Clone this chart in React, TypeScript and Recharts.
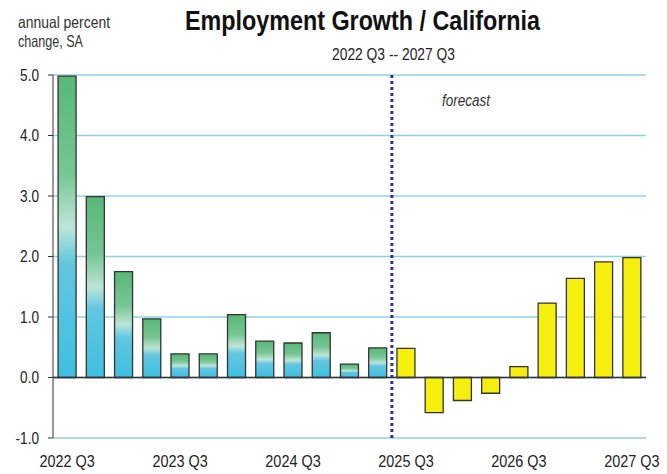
import React from 'react';
import {
  BarChart,
  Bar,
  Cell,
  XAxis,
  YAxis,
  CartesianGrid,
  ReferenceLine,
} from 'recharts';

const quarters = [
  '2022 Q3', '2022 Q4', '2023 Q1', '2023 Q2', '2023 Q3', '2023 Q4', '2024 Q1',
  '2024 Q2', '2024 Q3', '2024 Q4', '2025 Q1', '2025 Q2', '2025 Q3', '2025 Q4',
  '2026 Q1', '2026 Q2', '2026 Q3', '2026 Q4', '2027 Q1', '2027 Q2', '2027 Q3',
];

const growth = [
  4.98, 2.99, 1.75, 0.97, 0.39, 0.39, 1.04, 0.6, 0.57, 0.74, 0.22, 0.49,
  0.48, -0.58, -0.38, -0.26, 0.18, 1.23, 1.64, 1.91, 1.98,
];

const firstForecast = '2025 Q3';
const yTicks = [-1, 0, 1, 2, 3, 4, 5];

const data = quarters.map((q, i) => ({ q, value: growth[i] }));
const forecastStart = quarters.indexOf(firstForecast);

const FONT = "'Liberation Sans', Arial, sans-serif";
const SQUEEZE = 0.85; // the original type is a condensed face

// tick labels drawn condensed around their anchor point
const XTick = (props: any) => {
  const { x, y, payload } = props;
  return (
    <g transform={`translate(${x},${y}) scale(${SQUEEZE},1)`}>
      <text x={0} y={0} dy="0.71em" textAnchor="middle" fontSize={17} fill="#222" fontFamily={FONT}>
        {payload.value}
      </text>
    </g>
  );
};

const YTick = (props: any) => {
  const { x, y, payload } = props;
  return (
    <g transform={`translate(${x},${y}) scale(${SQUEEZE},1)`}>
      <text x={0} y={0} dy="0.355em" textAnchor="end" fontSize={16} fill="#222" fontFamily={FONT}>
        {Number(payload.value).toFixed(1)}
      </text>
    </g>
  );
};

const App: React.FC = () => {
  return (
    <div style={{ position: 'absolute', left: 0, top: 0, width: 667, height: 474, background: '#fff' }}>
      <BarChart
        width={667}
        height={474}
        data={data}
        margin={{ top: 75, right: 21, left: 0, bottom: 6 }}
        barCategoryGap="18%"
      >
        <CartesianGrid vertical={false} stroke="#8fd3e3" strokeWidth={1.5} />
        <XAxis
          dataKey="q"
          interval={3}
          tickLine={false}
          axisLine={false}
          height={30}
          tickMargin={11}
          tick={<XTick />}
        />
        <YAxis
          domain={[-1, 5]}
          ticks={yTicks}
          width={53}
          tickSize={5}
          tickMargin={9}
          interval={0}
          stroke="#333"
          tick={<YTick />}
        />
        <Bar dataKey="value" stroke="#333" strokeWidth={1.3} isAnimationActive={false}>
          {data.map((d, i) => (
            <Cell key={d.q} fill={i >= forecastStart ? '#f6ee0c' : 'url(#histGrad)'} />
          ))}
        </Bar>
        <ReferenceLine y={0} stroke="#333" strokeWidth={1.5} />
        <ReferenceLine
          x={firstForecast}
          position="start"
          stroke="#3a2c96"
          strokeWidth={3}
          strokeDasharray="3 3"
        />
      </BarChart>
      <svg
        width={667}
        height={474}
        style={{ position: 'absolute', left: 0, top: 0, pointerEvents: 'none' }}
      >
        <defs>
          <linearGradient id="histGrad" x1="0" y1="0" x2="0" y2="1">
            <stop offset="0%" stopColor="#58b878" />
            <stop offset="32%" stopColor="#76c693" />
            <stop offset="50%" stopColor="#bde5d8" />
            <stop offset="62%" stopColor="#62c7e0" />
            <stop offset="100%" stopColor="#3ebfe0" />
          </linearGradient>
        </defs>
        <text x={18} y={28} fontSize={16.5} fill="#333" fontFamily={FONT} textLength={92} lengthAdjust="spacingAndGlyphs">
          annual percent
        </text>
        <text x={18} y={47} fontSize={16.5} fill="#333" fontFamily={FONT} textLength={65} lengthAdjust="spacingAndGlyphs">
          change, SA
        </text>
        <text x={185} y={30} fontSize={28} fontWeight="bold" fill="#111" fontFamily={FONT} textLength={355} lengthAdjust="spacingAndGlyphs">
          Employment Growth / California
        </text>
        <text x={332} y={60} fontSize={16.5} fill="#222" fontFamily={FONT} textLength={123} lengthAdjust="spacingAndGlyphs">
          2022 Q3 -- 2027 Q3
        </text>
        <text x={442} y={106} fontSize={16} fontStyle="italic" fill="#333" fontFamily={FONT} textLength={48} lengthAdjust="spacingAndGlyphs">
          forecast
        </text>
      </svg>
    </div>
  );
};

export default App;
